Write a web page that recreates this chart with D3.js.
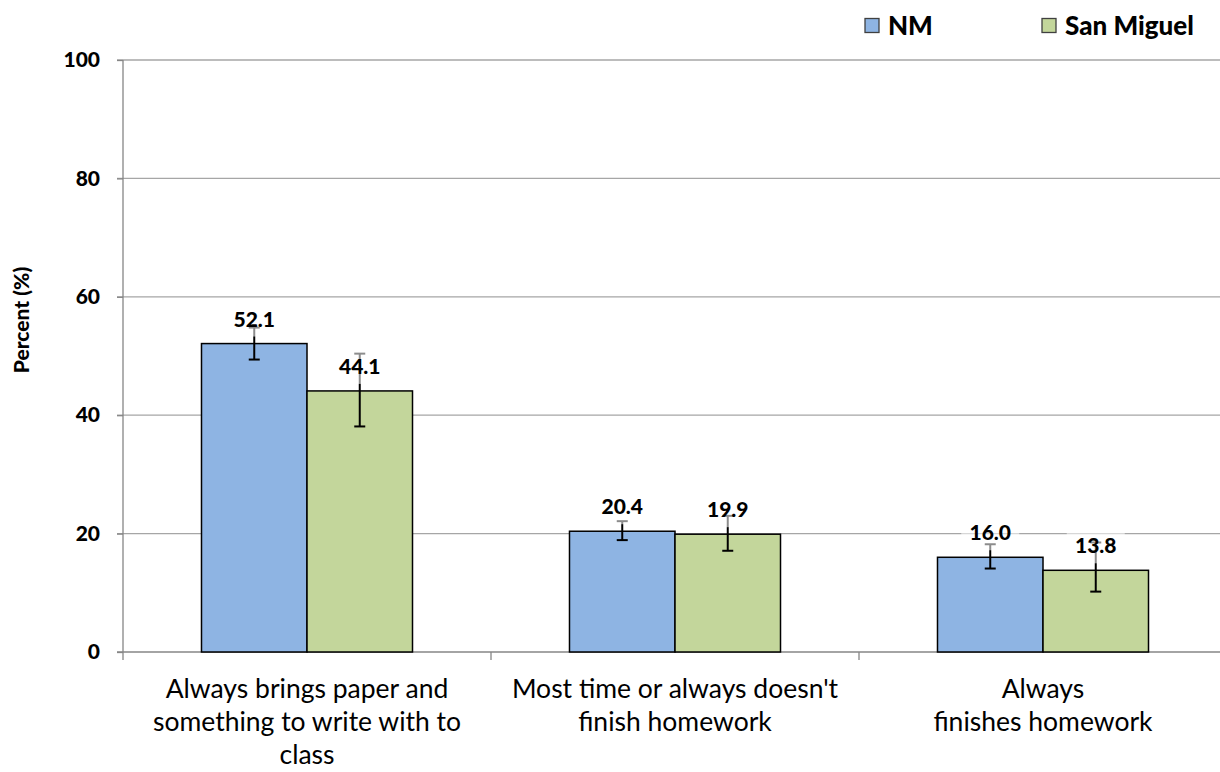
<!DOCTYPE html>
<html>
<head>
<meta charset="utf-8">
<script src="https://cdn.jsdelivr.net/npm/d3@7"></script>
<style>
  html, body { margin: 0; padding: 0; background: #fff; }
  svg { display: block; }
  text { font-family: Lato, "Open Sans", sans-serif; }
</style>
</head>
<body>
<svg id="chart" width="1220" height="772"></svg>
<script>
const categories = ["cat1", "cat2", "cat3"];
const categoryLines = [
  ["Always brings paper and", "something to write with to", "class"],
  ["Most time or always doesn't", "finish homework"],
  ["Always", "finishes homework"]
];
const seriesNames = ["NM", "San Miguel"];
const seriesColors = ["#8EB4E3", "#C3D69B"];
const nmValues = [52.1, 20.4, 16.0];
const smValues = [44.1, 19.9, 13.8];
const nmLow = [49.4, 18.9, 14.1];
const nmHigh = [54.8, 22.1, 18.2];
const smLow = [38.1, 17.1, 10.2];
const smHigh = [50.4, 23.0, 18.5];
const yTicks = [0, 20, 40, 60, 80, 100];

const svg = d3.select("#chart");

const y = d3.scaleLinear().domain([0, 100]).range([652, 60]);
const x0 = d3.scaleBand().domain(categories).range([123, 1227]).paddingInner(0).paddingOuter(0);
const x1 = d3.scaleBand().domain(seriesNames).range([0, x0.bandwidth()]).paddingInner(0).paddingOuter(0.744);

const data = [];
categories.forEach((c, i) => {
  data.push({cat: c, s: seriesNames[0], v: nmValues[i], lo: nmLow[i], hi: nmHigh[i], color: seriesColors[0]});
  data.push({cat: c, s: seriesNames[1], v: smValues[i], lo: smLow[i], hi: smHigh[i], color: seriesColors[1]});
});

// gridlines
svg.append("g").selectAll("line").data(yTicks.filter(t => t > 0)).join("line")
  .attr("x1", 117).attr("x2", 1220)
  .attr("y1", d => y(d)).attr("y2", d => y(d))
  .attr("stroke", "#a6a6a6").attr("stroke-width", 1.3);

// y axis
const yAxis = d3.axisLeft(y).tickValues(yTicks).tickSize(6).tickPadding(17).tickFormat(d3.format("d"));
const gy = svg.append("g").attr("transform", "translate(123,0)").call(yAxis);
gy.select(".domain").attr("stroke", "#868686").attr("stroke-width", 1.3).attr("d", "M0,60V652");
gy.selectAll(".tick line").attr("stroke", "#868686").attr("stroke-width", 1.3);
gy.selectAll(".tick text").attr("font-family", "Lato, sans-serif").attr("font-weight", "900")
  .attr("font-size", "21px").attr("fill", "#000");

// x axis
const gx = svg.append("g");
gx.append("line").attr("x1", 117).attr("x2", 1220).attr("y1", y(0)).attr("y2", y(0))
  .attr("stroke", "#868686").attr("stroke-width", 1.3);
const bounds = categories.map(c => x0(c)).concat([x0(categories[2]) + x0.bandwidth()]);
gx.selectAll("line.ct").data(bounds.filter(b => b < 1220)).join("line").attr("class", "ct")
  .attr("x1", d => d).attr("x2", d => d).attr("y1", y(0)).attr("y2", y(0) + 8)
  .attr("stroke", "#868686").attr("stroke-width", 1.3);

// category labels
categories.forEach((c, i) => {
  const cx = x0(c) + x0.bandwidth() / 2;
  const t = svg.append("text").attr("text-anchor", "middle")
    .attr("font-size", "26.5px").attr("fill", "#000");
  categoryLines[i].forEach((ln, j) => {
    t.append("tspan").attr("x", cx).attr("y", 698 + j * 33).text(ln);
  });
});

// bars
svg.append("g").selectAll("rect").data(data).join("rect")
  .attr("x", d => x0(d.cat) + x1(d.s))
  .attr("width", x1.bandwidth())
  .attr("y", d => y(d.v))
  .attr("height", d => y(0) - y(d.v))
  .attr("fill", d => d.color)
  .attr("stroke", "#000").attr("stroke-width", 1.5);

// error bars
const eg = svg.append("g");
data.forEach(d => {
  const cx = x0(d.cat) + x1(d.s) + x1.bandwidth() / 2;
  eg.append("line").attr("x1", cx).attr("x2", cx).attr("y1", y(d.lo)).attr("y2", y(d.hi))
    .attr("stroke", "#000").attr("stroke-width", 2);
  [d.lo, d.hi].forEach(v => {
    eg.append("line").attr("x1", cx - 5.5).attr("x2", cx + 5.5).attr("y1", y(v)).attr("y2", y(v))
      .attr("stroke", "#000").attr("stroke-width", 2);
  });
});

// value labels with semi-transparent background
const lg = svg.append("g");
data.forEach(d => {
  const cx = x0(d.cat) + x1(d.s) + x1.bandwidth() / 2;
  const base = y(d.v) - 17;
  lg.append("rect").attr("x", cx - 29).attr("y", base - 23).attr("width", 58).attr("height", 33)
    .attr("fill", "#fff").attr("opacity", 0.55);
  lg.append("text").attr("x", cx).attr("y", base).attr("text-anchor", "middle")
    .attr("font-weight", "900").attr("font-size", "21px").attr("fill", "#000")
    .text(d3.format(".1f")(d.v));
});

// y axis title
svg.append("text").attr("transform", "translate(29,320) rotate(-90)")
  .attr("text-anchor", "middle").attr("font-weight", "900").attr("font-size", "21px")
  .attr("fill", "#000").text("Percent (%)");

// legend
const legendX = [865, 1042];
seriesNames.forEach((s, i) => {
  svg.append("rect").attr("x", legendX[i]).attr("y", 18.5).attr("width", 14).attr("height", 14)
    .attr("fill", seriesColors[i]).attr("stroke", "#404040").attr("stroke-width", 1.3);
  svg.append("text").attr("x", legendX[i] + 23).attr("y", 34.5).attr("font-weight", "900")
    .attr("font-size", "26px").attr("fill", "#000").text(s);
});
</script>
</body>
</html>
